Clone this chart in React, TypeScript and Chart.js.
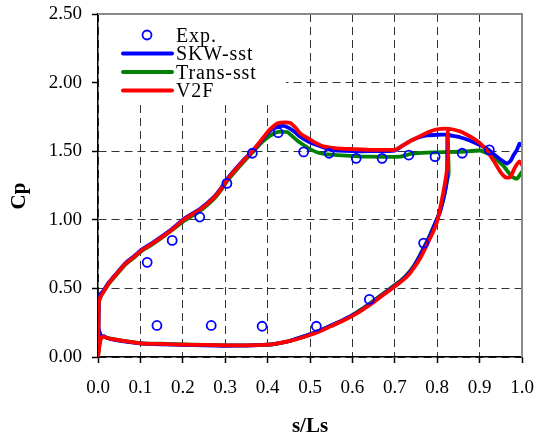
import { useEffect, useRef } from 'react';
import { Chart, registerables } from 'chart.js';

Chart.register(...registerables);

// Experimental pressure coefficients
const expS = [0.116, 0.175, 0.240, 0.304, 0.364, 0.425, 0.485, 0.545, 0.609, 0.670, 0.733, 0.795, 0.859, 0.923,
  0.139, 0.267, 0.387, 0.515, 0.640, 0.768];
const expCp = [0.69, 0.85, 1.02, 1.265, 1.485, 1.635, 1.495, 1.485, 1.448, 1.448, 1.472, 1.46, 1.485, 1.51,
  0.23, 0.23, 0.224, 0.224, 0.42, 0.83];

// V2F: lower surface traced back to the leading edge, then the upper surface
const v2fS = [0.825, 0.826, 0.821, 0.815, 0.808, 0.800, 0.790, 0.780, 0.770, 0.760, 0.745, 0.730, 0.715, 0.700,
  0.685, 0.667, 0.650, 0.634, 0.617, 0.600, 0.575, 0.550, 0.525, 0.500, 0.475, 0.450, 0.425, 0.400, 0.350,
  0.300, 0.250, 0.200, 0.150, 0.100, 0.065, 0.034, 0.020, 0.014, 0.008, 0.004, 0.002, 0.000,
  0.001, 0.002, 0.006, 0.012, 0.026, 0.045, 0.065, 0.085, 0.104, 0.125, 0.144, 0.175, 0.202, 0.241, 0.273,
  0.289, 0.304, 0.320, 0.340, 0.364, 0.385, 0.400, 0.413, 0.425, 0.440, 0.454, 0.466, 0.477, 0.492, 0.508,
  0.532, 0.564, 0.603, 0.642, 0.680, 0.700, 0.721, 0.740, 0.760, 0.780, 0.800, 0.820, 0.835, 0.853, 0.870,
  0.887, 0.902, 0.914, 0.925, 0.937, 0.949, 0.961, 0.972, 0.984, 0.994, 1.000];
const v2fCp = [1.65, 1.45, 1.32, 1.21, 1.10, 0.99, 0.91, 0.845, 0.78, 0.72, 0.65, 0.59, 0.55, 0.515,
  0.48, 0.44, 0.40, 0.365, 0.33, 0.30, 0.26, 0.225, 0.19, 0.16, 0.135, 0.115, 0.10, 0.09, 0.085,
  0.085, 0.088, 0.09, 0.095, 0.10, 0.115, 0.13, 0.14, 0.148, 0.14, 0.10, 0.05, 0.0,
  0.20, 0.40, 0.44, 0.47, 0.54, 0.61, 0.68, 0.73, 0.78, 0.82, 0.86, 0.93, 1.00, 1.075, 1.16,
  1.22, 1.29, 1.35, 1.42, 1.50, 1.58, 1.64, 1.68, 1.705, 1.71, 1.705, 1.67, 1.63, 1.60, 1.57,
  1.535, 1.52, 1.515, 1.51, 1.51, 1.51, 1.545, 1.58, 1.61, 1.64, 1.66, 1.665, 1.66, 1.645, 1.62,
  1.59, 1.555, 1.515, 1.47, 1.41, 1.35, 1.31, 1.31, 1.385, 1.425, 1.40];

// SKW-sst
const skwS = [0.824, 0.823, 0.818, 0.812, 0.806, 0.797, 0.788, 0.778, 0.768, 0.758, 0.745, 0.730, 0.715, 0.700,
  0.685, 0.667, 0.650, 0.634, 0.617, 0.600, 0.575, 0.550, 0.525, 0.500, 0.475, 0.450, 0.425, 0.400, 0.350,
  0.300, 0.250, 0.200, 0.150, 0.100, 0.065, 0.034, 0.020, 0.014, 0.008, 0.004, 0.002, 0.000,
  0.001, 0.002, 0.006, 0.012, 0.026, 0.045, 0.065, 0.085, 0.104, 0.125, 0.144, 0.175, 0.202, 0.241, 0.273,
  0.289, 0.304, 0.320, 0.340, 0.364, 0.385, 0.400, 0.413, 0.425, 0.437, 0.450, 0.464, 0.477, 0.496, 0.516,
  0.548, 0.600, 0.642, 0.700, 0.718, 0.737, 0.756, 0.776, 0.800, 0.824, 0.840, 0.855, 0.875, 0.894, 0.908,
  0.921, 0.935, 0.949, 0.965, 0.973, 0.980, 0.988, 0.994, 1.000];
const skwCp = [1.62, 1.30, 1.20, 1.12, 1.05, 0.99, 0.92, 0.85, 0.79, 0.73, 0.66, 0.60, 0.555, 0.52,
  0.485, 0.445, 0.405, 0.37, 0.335, 0.305, 0.265, 0.23, 0.195, 0.165, 0.14, 0.115, 0.10, 0.09, 0.083,
  0.082, 0.085, 0.088, 0.093, 0.10, 0.112, 0.128, 0.14, 0.15, 0.15, 0.18, 0.20, 0.0,
  0.22, 0.42, 0.46, 0.48, 0.545, 0.615, 0.685, 0.735, 0.785, 0.825, 0.865, 0.935, 1.005, 1.08, 1.165,
  1.225, 1.295, 1.355, 1.425, 1.50, 1.575, 1.63, 1.665, 1.68, 1.685, 1.67, 1.64, 1.605, 1.57, 1.545,
  1.51, 1.50, 1.50, 1.505, 1.54, 1.575, 1.60, 1.615, 1.62, 1.62, 1.61, 1.60, 1.58, 1.555, 1.535,
  1.51, 1.475, 1.44, 1.41, 1.43, 1.47, 1.51, 1.555, 1.54];

// Trans-sst
const transS = [0.826, 0.827, 0.823, 0.818, 0.812, 0.805, 0.798, 0.788, 0.778, 0.768, 0.758, 0.745, 0.730, 0.715,
  0.700, 0.685, 0.667, 0.650, 0.634, 0.617, 0.600, 0.575, 0.550, 0.525, 0.500, 0.475, 0.450, 0.425, 0.400,
  0.350, 0.300, 0.250, 0.200, 0.150, 0.100, 0.065, 0.034, 0.020, 0.014, 0.008, 0.004, 0.002, 0.000,
  0.001, 0.002, 0.006, 0.012, 0.026, 0.045, 0.065, 0.085, 0.104, 0.125, 0.144, 0.175, 0.202, 0.241, 0.273,
  0.289, 0.304, 0.320, 0.340, 0.364, 0.385, 0.400, 0.413, 0.425, 0.446, 0.458, 0.469, 0.485, 0.500, 0.524,
  0.564, 0.642, 0.713, 0.737, 0.776, 0.855, 0.902, 0.918, 0.933, 0.945, 0.957, 0.967, 0.976, 0.988, 1.000];
const transCp = [1.46, 1.34, 1.28, 1.20, 1.12, 1.05, 0.99, 0.925, 0.855, 0.795, 0.735, 0.665, 0.605, 0.56,
  0.525, 0.49, 0.45, 0.41, 0.375, 0.34, 0.305, 0.265, 0.23, 0.195, 0.165, 0.14, 0.115, 0.10, 0.09,
  0.085, 0.085, 0.088, 0.092, 0.097, 0.10, 0.115, 0.132, 0.142, 0.15, 0.14, 0.10, 0.05, 0.0,
  0.20, 0.40, 0.44, 0.47, 0.535, 0.605, 0.675, 0.725, 0.775, 0.815, 0.855, 0.925, 0.99, 1.065, 1.15,
  1.21, 1.28, 1.34, 1.41, 1.49, 1.56, 1.60, 1.625, 1.64, 1.64, 1.61, 1.58, 1.545, 1.515, 1.485,
  1.472, 1.46, 1.46, 1.48, 1.49, 1.496, 1.505, 1.485, 1.46, 1.425, 1.39, 1.35, 1.315, 1.30, 1.35];

const xTickStep = 0.1;
const yTickStep = 0.5;

const serif = "'Liberation Serif', 'Times New Roman', serif";

const toPoints = (xs: number[], ys: number[]) => xs.map((x, i) => ({ x, y: ys[i] }));

// Legend drawn on a white box in the upper-left corner of the plot area
const cornerLegend = {
  id: 'cornerLegend',
  beforeDatasetsDraw(chart: any) {
    const { ctx, chartArea } = chart;
    const left = chartArea.left;
    const top = chartArea.top;
    ctx.save();
    ctx.fillStyle = '#ffffff';
    ctx.fillRect(left + 1, top + 1, 187, 88);
    ctx.font = `20px ${serif}`;
    ctx.letterSpacing = '0.9px';
    ctx.fillStyle = '#000';
    ctx.textAlign = 'left';
    ctx.textBaseline = 'alphabetic';
    chart.data.datasets.forEach((ds: any, i: number) => {
      const cy = top + 21 + i * 18.5;
      if (ds.showLine === false) {
        ctx.beginPath();
        ctx.arc(left + 49, cy, 4.5, 0, Math.PI * 2);
        ctx.lineWidth = 1.8;
        ctx.strokeStyle = ds.borderColor;
        ctx.stroke();
      } else {
        ctx.beginPath();
        ctx.moveTo(left + 25, cy);
        ctx.lineTo(left + 74, cy);
        ctx.lineWidth = 4;
        ctx.lineCap = 'round';
        ctx.strokeStyle = ds.borderColor;
        ctx.stroke();
      }
      ctx.fillText(ds.label, left + 78, cy + 6.8);
    });
    ctx.restore();
  },
};

// Grey frame along the top and right of the plot area
const plotFrame = {
  id: 'plotFrame',
  afterDatasetsDraw(chart: any) {
    const { ctx, chartArea } = chart;
    ctx.save();
    ctx.strokeStyle = '#8a8a8a';
    ctx.lineWidth = 2;
    ctx.beginPath();
    ctx.moveTo(chartArea.left, chartArea.top);
    ctx.lineTo(chartArea.right, chartArea.top);
    ctx.lineTo(chartArea.right, chartArea.bottom);
    ctx.stroke();
    ctx.restore();
  },
};

export default function App() {
  const canvasRef = useRef<HTMLCanvasElement | null>(null);

  useEffect(() => {
    if (!canvasRef.current) return;
    const lineDefaults = {
      showLine: true,
      pointRadius: 0,
      pointHoverRadius: 0,
      borderWidth: 3.8,
      borderJoinStyle: 'round',
      borderCapStyle: 'round',
      tension: 0.15,
      fill: false,
    };
    const chart = new Chart(canvasRef.current, {
      type: 'scatter',
      data: {
        datasets: [
          {
            label: 'Exp.',
            data: toPoints(expS, expCp),
            showLine: false,
            pointStyle: 'circle',
            pointRadius: 4.5,
            pointBorderWidth: 1.8,
            borderColor: '#0000ff',
            backgroundColor: 'rgba(0,0,0,0)',
            order: 0,
          },
          { ...lineDefaults, label: 'SKW-sst', data: toPoints(skwS, skwCp), borderColor: '#0000ff', order: 2 },
          { ...lineDefaults, label: 'Trans-sst', data: toPoints(transS, transCp), borderColor: '#008000', order: 3 },
          { ...lineDefaults, label: 'V2F', data: toPoints(v2fS, v2fCp), borderColor: '#ff0000', order: 1 },
        ] as any,
      },
      options: {
        responsive: false,
        animation: false,
        devicePixelRatio: 1,
        layout: { padding: { top: 14, right: 16, left: 0, bottom: 0 } },
        plugins: { legend: { display: false }, tooltip: { enabled: false } },
        scales: {
          x: {
            type: 'linear',
            min: 0,
            max: 1,
            afterFit: (s: any) => {
              s.height = 83;
              s.paddingLeft = 0;
              s.paddingRight = 0;
            },
            ticks: {
              stepSize: xTickStep,
              padding: 14,
              color: '#000',
              font: { family: serif, size: 19 },
              callback: (v: any) => Number(v).toFixed(1),
              maxRotation: 0,
            },
            grid: {
              color: '#333333',
              lineWidth: 1,
              tickColor: '#000',
              tickLength: 6,
              tickWidth: 1.5,
            },
            border: { color: '#000', width: 1.5, dash: [8, 5] },
            title: {
              display: true,
              text: 's/Ls',
              color: '#000',
              font: { family: serif, size: 21, weight: 'bold' },
              padding: { top: 0, bottom: 1 },
            },
          },
          y: {
            type: 'linear',
            min: 0,
            max: 2.5,
            afterFit: (s: any) => {
              s.width = 98;
              s.paddingTop = 0;
              s.paddingBottom = 0;
            },
            ticks: {
              stepSize: yTickStep,
              padding: 10,
              color: '#000',
              font: { family: serif, size: 19 },
              callback: (v: any) => Number(v).toFixed(2),
            },
            grid: {
              color: '#333333',
              lineWidth: 1,
              tickColor: '#000',
              tickLength: 6,
              tickWidth: 1.5,
            },
            border: { color: '#000', width: 1.5, dash: [8, 5] },
            title: {
              display: true,
              text: 'Cp    ',
              color: '#000',
              font: { family: serif, size: 21, weight: 'bold' },
              padding: { top: 7, bottom: 0 },
            },
          },
        },
      } as any,
      plugins: [cornerLegend, plotFrame],
    });
    return () => chart.destroy();
  }, []);

  return (
    <div style={{ position: 'absolute', left: 0, top: 0, width: 538, height: 440 }}>
      <canvas ref={canvasRef} width={538} height={440} style={{ display: 'block' }} />
    </div>
  );
}
